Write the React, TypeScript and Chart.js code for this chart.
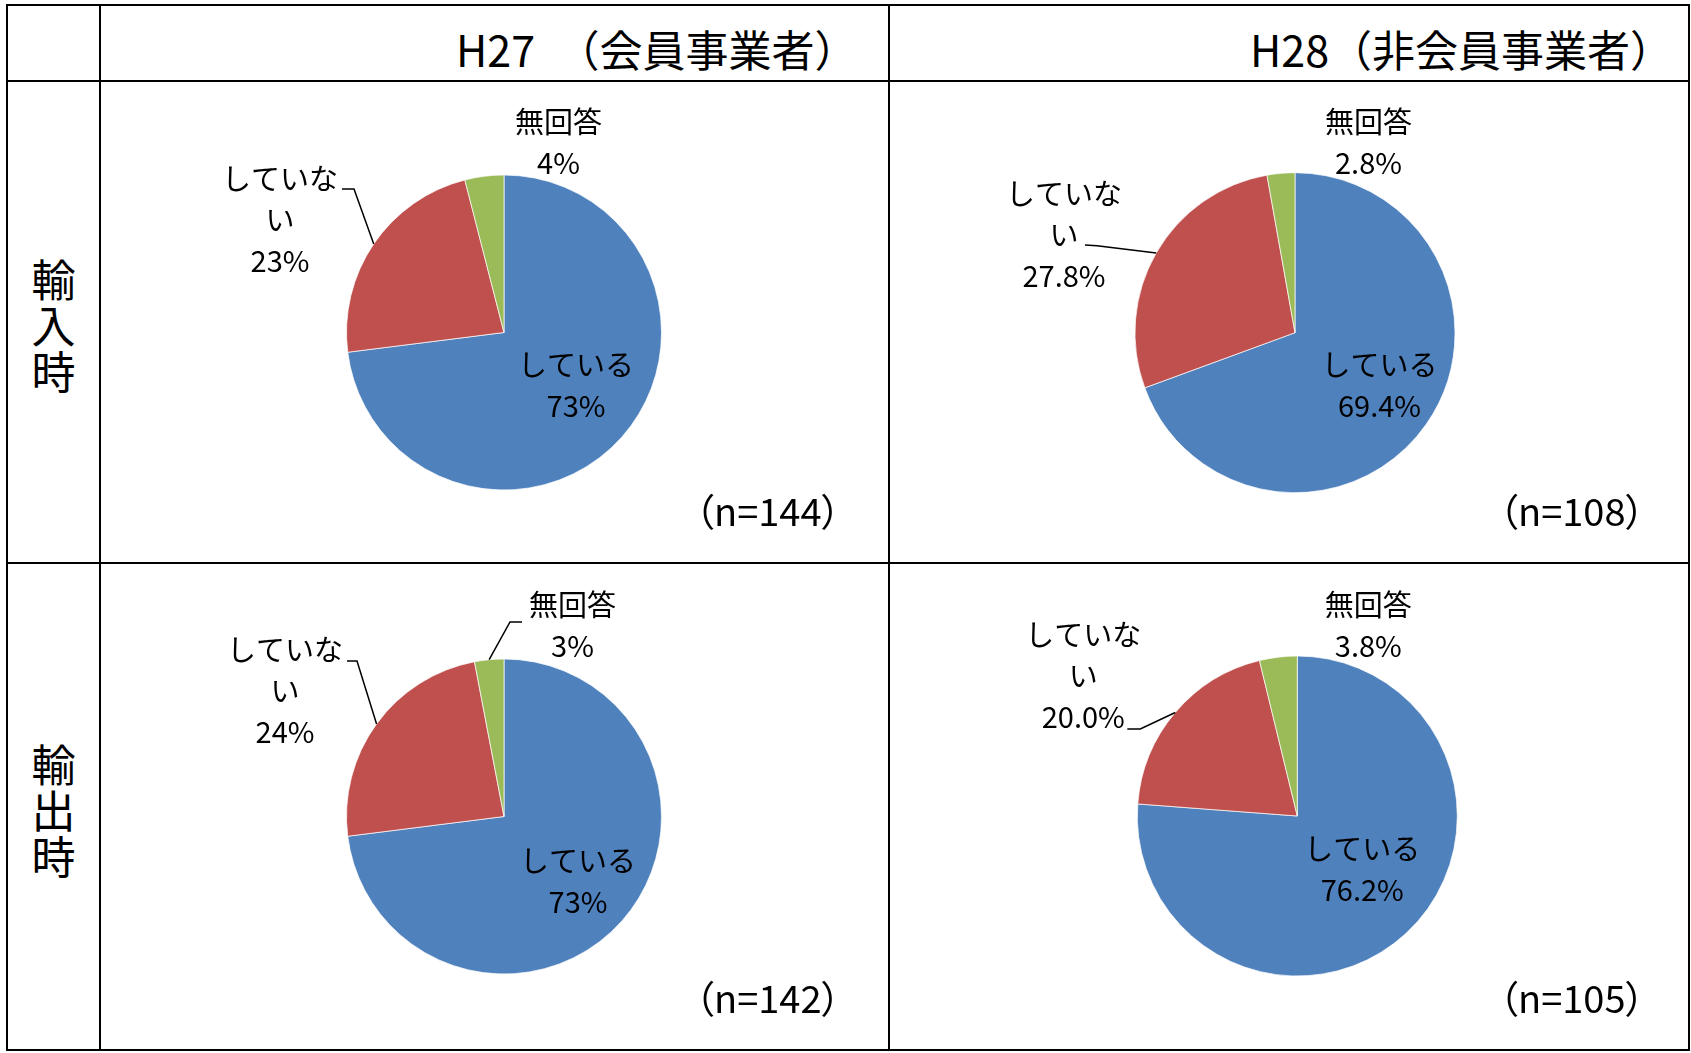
import React, { useEffect, useRef } from "react";
import { Chart, registerables } from "chart.js";

Chart.register(...registerables);

// ---- data ----
const categories = ["している", "していない", "無回答"];
const categoryLines = [["している"], ["していな", "い"], ["無回答"]];
const sliceColors = ["#4F81BD", "#C0504D", "#9BBB59"];

const importH27 = [73, 23, 4];
const importH28 = [69.4, 27.8, 2.8];
const exportH27 = [73, 24, 3];
const exportH28 = [76.2, 20.0, 3.8];

const sampleSizes = [144, 108, 142, 105];
const columnHeaders = ["H27\u3000（会員事業者）", "H28（非会員事業者）"];
const rowHeaders = ["輸入時", "輸出時"];
const percentDecimals = [0, 1];

// ---- layout ----
const FONT = '"Noto Sans CJK JP", "Noto Sans", sans-serif';
const colX = [7, 100, 889, 1689];
const rowY = [5, 81, 563, 1050];

type Pt = [number, number];
interface PieLayout {
  cx: number;
  cy: number;
  r: number;
  labels: Pt[];
  leaders: (Pt[] | null)[];
  nLeft: number;
  nMid: number;
}

const pieLayouts: PieLayout[] = [
  {
    cx: 504, cy: 332.5, r: 157.5,
    labels: [[72, 53], [-224, -112.5], [54.5, -190.5]],
    leaders: [null, [[-162, -143.5], [-150, -143.5]], null],
    nLeft: 699, nMid: 509.5,
  },
  {
    cx: 1295, cy: 332.7, r: 160,
    labels: [[84.5, 53], [-231, -98], [73.5, -190.7]],
    leaders: [null, [[-210, -87.7], [-198, -87]], null],
    nLeft: 1503, nMid: 509.5,
  },
  {
    cx: 504, cy: 816.5, r: 157.5,
    labels: [[74, 65], [-219, -125.5], [68.5, -191.5]],
    leaders: [null, [[-157, -155.5], [-147, -155.5]], [[18, -194.5], [6, -194.5]]],
    nLeft: 699, nMid: 997,
  },
  {
    cx: 1297.3, cy: 816, r: 160,
    labels: [[65, 53.5], [-214, -140], [71, -191]],
    leaders: [null, [[-170, -87], [-157, -87]], null],
    nLeft: 1503, nMid: 997,
  },
];

const panels = [
  { values: importH27, row: 0, col: 0 },
  { values: importH28, row: 0, col: 1 },
  { values: exportH27, row: 1, col: 0 },
  { values: exportH28, row: 1, col: 1 },
];

// Draws category name + percentage next to each slice, with leader lines
const sliceLabels = {
  id: "sliceLabels",
  afterDatasetsDraw(chart: any, _args: any, opts: any) {
    const { ctx } = chart;
    const meta = chart.getDatasetMeta(0);
    const data = chart.data.datasets[0].data as number[];
    const layout: PieLayout = opts.layout;
    ctx.save();
    ctx.fillStyle = "#000";
    ctx.strokeStyle = "#000";
    ctx.lineWidth = 1.5;
    ctx.font = `29px ${FONT}`;
    ctx.textAlign = "center";
    ctx.textBaseline = "middle";
    meta.data.forEach((arc: any, i: number) => {
      const { x, y, startAngle, endAngle, outerRadius } = arc.getProps(
        ["x", "y", "startAngle", "endAngle", "outerRadius"],
        true
      );
      const lines = [
        ...categoryLines[i],
        `${data[i].toFixed(opts.decimals)}%`,
      ];
      const [dx, dy] = layout.labels[i];
      const lh = 41;
      const top = y + dy - ((lines.length - 1) * lh) / 2;
      lines.forEach((t, k) => ctx.fillText(t, x + dx, top + k * lh));

      const leader = layout.leaders[i];
      if (leader) {
        const mid = (startAngle + endAngle) / 2;
        ctx.beginPath();
        ctx.moveTo(x + leader[0][0], y + leader[0][1]);
        for (let k = 1; k < leader.length; k++) {
          ctx.lineTo(x + leader[k][0], y + leader[k][1]);
        }
        ctx.lineTo(x + Math.cos(mid) * outerRadius, y + Math.sin(mid) * outerRadius);
        ctx.stroke();
      }
    });
    ctx.restore();
  },
};

function PiePanel({ index }: { index: number }) {
  const ref = useRef<HTMLCanvasElement | null>(null);
  const panel = panels[index];
  const layout = pieLayouts[index];
  const x0 = colX[panel.col + 1] + 1;
  const x1 = colX[panel.col + 2] - 1;
  const y0 = rowY[panel.row + 1] + 1;
  const y1 = rowY[panel.row + 2] - 1;
  const w = x1 - x0;
  const h = y1 - y0;

  useEffect(() => {
    if (!ref.current) return;
    const hx = 2 * (layout.cx - x0) - w;
    const hy = 2 * (layout.cy - y0) - h;
    const chart = new Chart(ref.current, {
      type: "pie",
      data: {
        labels: categories,
        datasets: [
          {
            data: panel.values,
            backgroundColor: sliceColors,
            borderColor: "rgba(255,255,255,0.7)",
            borderWidth: 1,
            radius: layout.r,
          } as any,
        ],
      },
      options: {
        responsive: false,
        maintainAspectRatio: false,
        animation: false,
        layout: {
          padding: {
            left: Math.max(0, hx),
            right: Math.max(0, -hx),
            top: Math.max(0, hy),
            bottom: Math.max(0, -hy),
          },
        },
        plugins: {
          legend: { display: false },
          tooltip: { enabled: false },
          sliceLabels: { layout, decimals: percentDecimals[panel.col] },
        } as any,
      },
      plugins: [sliceLabels],
    });
    return () => chart.destroy();
  }, []);

  return (
    <canvas
      ref={ref}
      width={w}
      height={h}
      style={{ position: "absolute", left: x0, top: y0, width: w, height: h }}
    />
  );
}

export default function App() {
  const vLines = colX.map((x, i) => {
    const thick = i === 0 || i === colX.length - 1 ? 2.5 : 2;
    return (
      <div
        key={`v${i}`}
        style={{
          position: "absolute",
          left: x - thick / 2,
          top: rowY[0] - 1,
          width: thick,
          height: rowY[3] - rowY[0] + 2,
          background: "#000",
        }}
      />
    );
  });
  const hLines = rowY.map((y, i) => {
    const thick = i === 0 || i === rowY.length - 1 ? 2.5 : 2;
    return (
      <div
        key={`h${i}`}
        style={{
          position: "absolute",
          left: colX[0] - 1,
          top: y - thick / 2,
          width: colX[3] - colX[0] + 2,
          height: thick,
          background: "#000",
        }}
      />
    );
  });

  return (
    <div
      style={{
        position: "fixed",
        left: 0,
        top: 0,
        width: 1691,
        height: 1053,
        background: "#fff",
        fontFamily: FONT,
        color: "#000",
        overflow: "hidden",
      }}
    >
      {panels.map((_, i) => (
        <PiePanel key={i} index={i} />
      ))}

      {/* column headers */}
      <div
        style={{
          position: "absolute",
          left: 456,
          top: 23,
          fontSize: 43,
          lineHeight: "50px",
          whiteSpace: "nowrap",
        }}
      >
        {columnHeaders[0]}
      </div>
      <div
        style={{
          position: "absolute",
          left: 1250,
          top: 23,
          fontSize: 43,
          lineHeight: "50px",
          whiteSpace: "nowrap",
        }}
      >
        {columnHeaders[1]}
      </div>

      {/* row headers, one character per line */}
      {rowHeaders.map((t, i) => {
        const mid = (rowY[i + 1] + rowY[i + 2]) / 2 + 2;
        return (
          <div
            key={t}
            style={{
              position: "absolute",
              left: colX[0],
              width: colX[1] - colX[0],
              top: mid - 69,
              fontSize: 44,
              lineHeight: "46px",
              textAlign: "center",
            }}
          >
            {t.split("").map((c) => (
              <div key={c}>{c}</div>
            ))}
          </div>
        );
      })}

      {/* sample sizes */}
      {pieLayouts.map((l, i) => (
        <div
          key={`n${i}`}
          style={{
            position: "absolute",
            left: l.nLeft - 4,
            top: l.nMid - 25,
            fontSize: 38,
            lineHeight: "50px",
            whiteSpace: "nowrap",
            fontFeatureSettings: '"palt"',
          }}
        >
          {`（n=${sampleSizes[i]}）`}
        </div>
      ))}

      {vLines}
      {hLines}
    </div>
  );
}
